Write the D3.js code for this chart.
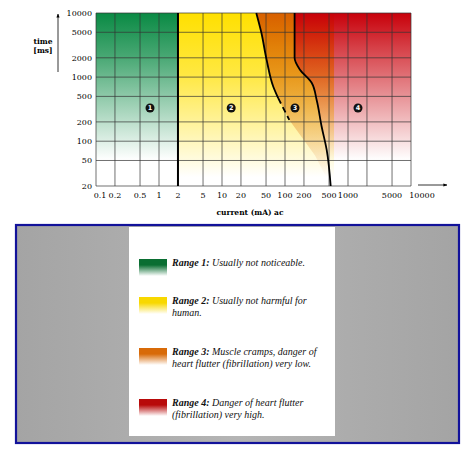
<!DOCTYPE html>
<html lang="en">
<head>
<meta charset="UTF-8">
<script src="https://d3js.org/d3.v7.min.js"></script>
<style>
  body { margin: 0; background: #fff; }
  svg { display: block; }
</style>
</head>
<body>
<svg width="474" height="454"></svg>
<script>
// ticks
var xTicks = [0.1, 0.2, 0.5, 1, 2, 5, 10, 20, 50, 100, 200, 500, 1000, 5000, 10000];
var xGrid = [0.1, 0.2, 0.5, 1, 2, 5, 10, 20, 50, 100, 200, 500, 1000, 2000, 5000, 10000];
var yTicks = [20, 50, 100, 200, 500, 1000, 2000, 5000, 10000];

// boundary curves [mA, ms]
var curveC1 = [[35, 10000], [42, 5000], [51, 1870], [65, 713], [78, 469]];
var curveC1Dash = [[78, 469], [117, 215]];
var curveC2 = [[142, 10000], [142, 2000], [173, 1300], [265, 816], [318, 440], [382, 168], [459, 73], [531, 20]];
var rangeLimit1 = 2;

// region markers
var markerLabels = ["1", "2", "3", "4"];
var markerCurrent = [0.72, 14, 144, 1440];
var markerTime = 330;

var legendTitles = ["Range 1:", "Range 2:", "Range 3:", "Range 4:"];
var legendLines = [
  ["Usually not noticeable."],
  ["Usually not harmful for", "human."],
  ["Muscle cramps, danger of", "heart flutter (fibrillation) very low."],
  ["Danger of heart flutter", "(fibrillation) very high."]
];
var legendColors = ["#0a6e32", "#f8d800", "#d86a08", "#b80a0a"];

var svg = d3.select("svg");
var x = d3.scaleLog().domain([0.1, 10000]).range([96, 411]);
var y = d3.scaleLog().domain([20, 10000]).range([186, 13]);
var defs = svg.append("defs");

function vgrad(id, col, top, fade) {
  var g = defs.append("linearGradient").attr("id", id)
    .attr("x1", 0).attr("y1", 0).attr("x2", 0).attr("y2", 1);
  g.append("stop").attr("offset", 0).attr("stop-color", col);
  g.append("stop").attr("offset", top).attr("stop-color", col).attr("stop-opacity", 0.75);
  g.append("stop").attr("offset", fade).attr("stop-color", col).attr("stop-opacity", 0);
}
vgrad("gGreen", "#0a8a44", 0.25, 0.85);
vgrad("gYellow", "#ffe000", 0.35, 0.95);
vgrad("gOrange", "#d86000", 0.2, 0.95);
vgrad("gRed", "#c8000a", 0.2, 0.85);

var line = d3.line().x(function (d) { return x(d[0]); }).y(function (d) { return y(d[1]); });
var curveLine = d3.line().curve(d3.curveMonotoneY)
  .x(function (d) { return x(d[0]); }).y(function (d) { return y(d[1]); });

// regions
svg.append("rect").attr("x", x(0.1)).attr("y", y(10000))
  .attr("width", x(rangeLimit1) - x(0.1)).attr("height", y(20) - y(10000))
  .attr("fill", "url(#gGreen)");
svg.append("rect").attr("x", x(rangeLimit1)).attr("y", y(10000))
  .attr("width", x(600) - x(rangeLimit1)).attr("height", y(20) - y(10000))
  .attr("fill", "url(#gYellow)");
var orangePts = curveC1.concat([[117, 215], [300, 60], [531, 20]]).concat(curveC2.slice().reverse());
svg.append("path").attr("d", line(orangePts) + "Z").attr("fill", "url(#gOrange)");
var redPts = curveC2.concat([[10000, 20], [10000, 10000]]);
svg.append("path").attr("d", line(redPts) + "Z").attr("fill", "url(#gRed)");

// grid
svg.selectAll(".gx").data(xGrid).enter().append("line")
  .attr("x1", function (d) { return x(d); }).attr("x2", function (d) { return x(d); })
  .attr("y1", y(10000)).attr("y2", y(20)).attr("stroke", "#333").attr("stroke-width", 0.7);
svg.selectAll(".gy").data(yTicks).enter().append("line")
  .attr("y1", function (d) { return y(d); }).attr("y2", function (d) { return y(d); })
  .attr("x1", x(0.1)).attr("x2", x(10000)).attr("stroke", "#333").attr("stroke-width", 0.7);

// boundaries
svg.append("line").attr("x1", x(rangeLimit1)).attr("x2", x(rangeLimit1))
  .attr("y1", y(10000)).attr("y2", y(20)).attr("stroke", "#000").attr("stroke-width", 2);
svg.append("path").attr("d", curveLine(curveC1)).attr("fill", "none").attr("stroke", "#000").attr("stroke-width", 1.8);
svg.append("path").attr("d", line(curveC1Dash)).attr("fill", "none").attr("stroke", "#000")
  .attr("stroke-width", 1.8).attr("stroke-dasharray", "6,4");
svg.append("path").attr("d", curveLine(curveC2)).attr("fill", "none").attr("stroke", "#000").attr("stroke-width", 1.8);

// markers
var mk = svg.selectAll(".mk").data(markerLabels).enter().append("g")
  .attr("transform", function (d, i) { return "translate(" + x(markerCurrent[i]) + "," + y(markerTime) + ")"; });
mk.append("circle").attr("r", 4.5).attr("fill", "#111");
mk.append("text").attr("text-anchor", "middle").attr("dy", "0.35em")
  .attr("font-family", "DejaVu Sans").attr("font-size", 6.5).attr("font-weight", "bold")
  .attr("fill", "#fff").text(function (d) { return d; });

// tick labels
var tf = "DejaVu Serif";
svg.selectAll(".xl").data(xTicks).enter().append("text")
  .attr("x", function (d) { return x(d) + (d === 0.1 ? 4 : d === 10000 ? 11 : 0); }).attr("y", 198)
  .attr("text-anchor", "middle").attr("font-family", tf).attr("font-size", 8)
  .text(function (d) { return d; });
svg.selectAll(".yl").data(yTicks).enter().append("text")
  .attr("x", 92).attr("y", function (d) { return y(d); }).attr("dy", "0.35em")
  .attr("text-anchor", "end").attr("font-family", tf).attr("font-size", 8)
  .text(function (d) { return d; });

svg.append("text").attr("x", 43).attr("y", 44).attr("text-anchor", "middle")
  .attr("font-family", tf).attr("font-size", 7.5).attr("font-weight", "bold").text("time");
svg.append("text").attr("x", 43).attr("y", 53).attr("text-anchor", "middle")
  .attr("font-family", tf).attr("font-size", 7.5).attr("font-weight", "bold").text("[ms]");
svg.append("text").attr("x", 250).attr("y", 215).attr("text-anchor", "middle")
  .attr("font-family", tf).attr("font-size", 7.5).attr("font-weight", "bold").text("current (mA) ac");

// arrows
defs.append("marker").attr("id", "ah").attr("viewBox", "0 0 10 10").attr("refX", 9).attr("refY", 5)
  .attr("markerWidth", 5).attr("markerHeight", 5).attr("orient", "auto")
  .append("path").attr("d", "M0,1L10,5L0,9Z").attr("fill", "#000");
svg.append("line").attr("x1", 58).attr("y1", 72).attr("x2", 58).attr("y2", 14)
  .attr("stroke", "#000").attr("stroke-width", 0.8).attr("marker-end", "url(#ah)");
svg.append("line").attr("x1", 418).attr("y1", 185).attr("x2", 447).attr("y2", 185)
  .attr("stroke", "#000").attr("stroke-width", 0.8).attr("marker-end", "url(#ah)");

// legend panel
var bg = defs.append("linearGradient").attr("id", "gGray");
bg.append("stop").attr("offset", 0).attr("stop-color", "#a4a4a4");
bg.append("stop").attr("offset", 0.5).attr("stop-color", "#b4b4b4");
bg.append("stop").attr("offset", 1).attr("stop-color", "#a4a4a4");
svg.append("rect").attr("x", 16).attr("y", 225).attr("width", 443).attr("height", 218)
  .attr("fill", "url(#gGray)").attr("stroke", "#12129a").attr("stroke-width", 2.2);
svg.append("rect").attr("x", 129).attr("y", 227).attr("width", 206).attr("height", 209).attr("fill", "#fff");

var legendY = [259, 297, 348, 399];
legendColors.forEach(function (c, i) {
  var gid = "lg" + i;
  var g = defs.append("linearGradient").attr("id", gid).attr("x1", 0).attr("y1", 0).attr("x2", 0).attr("y2", 1);
  g.append("stop").attr("offset", 0.35).attr("stop-color", c);
  g.append("stop").attr("offset", 1).attr("stop-color", c).attr("stop-opacity", 0);
  svg.append("rect").attr("x", 139).attr("y", legendY[i]).attr("width", 28).attr("height", 17).attr("fill", "url(#" + gid + ")");
  var t = svg.append("text").attr("x", 172).attr("y", legendY[i] + 7)
    .attr("font-family", "Liberation Serif").attr("font-style", "italic").attr("font-size", 10).attr("fill", "#111");
  legendLines[i].forEach(function (l, j) {
    var ts = t.append("tspan").attr("x", 172).attr("dy", j === 0 ? 0 : 11.5);
    if (j === 0) ts.append("tspan").attr("font-weight", "bold").text(legendTitles[i] + " ");
    ts.append("tspan").text(l);
  });
});
</script>
</body>
</html>
